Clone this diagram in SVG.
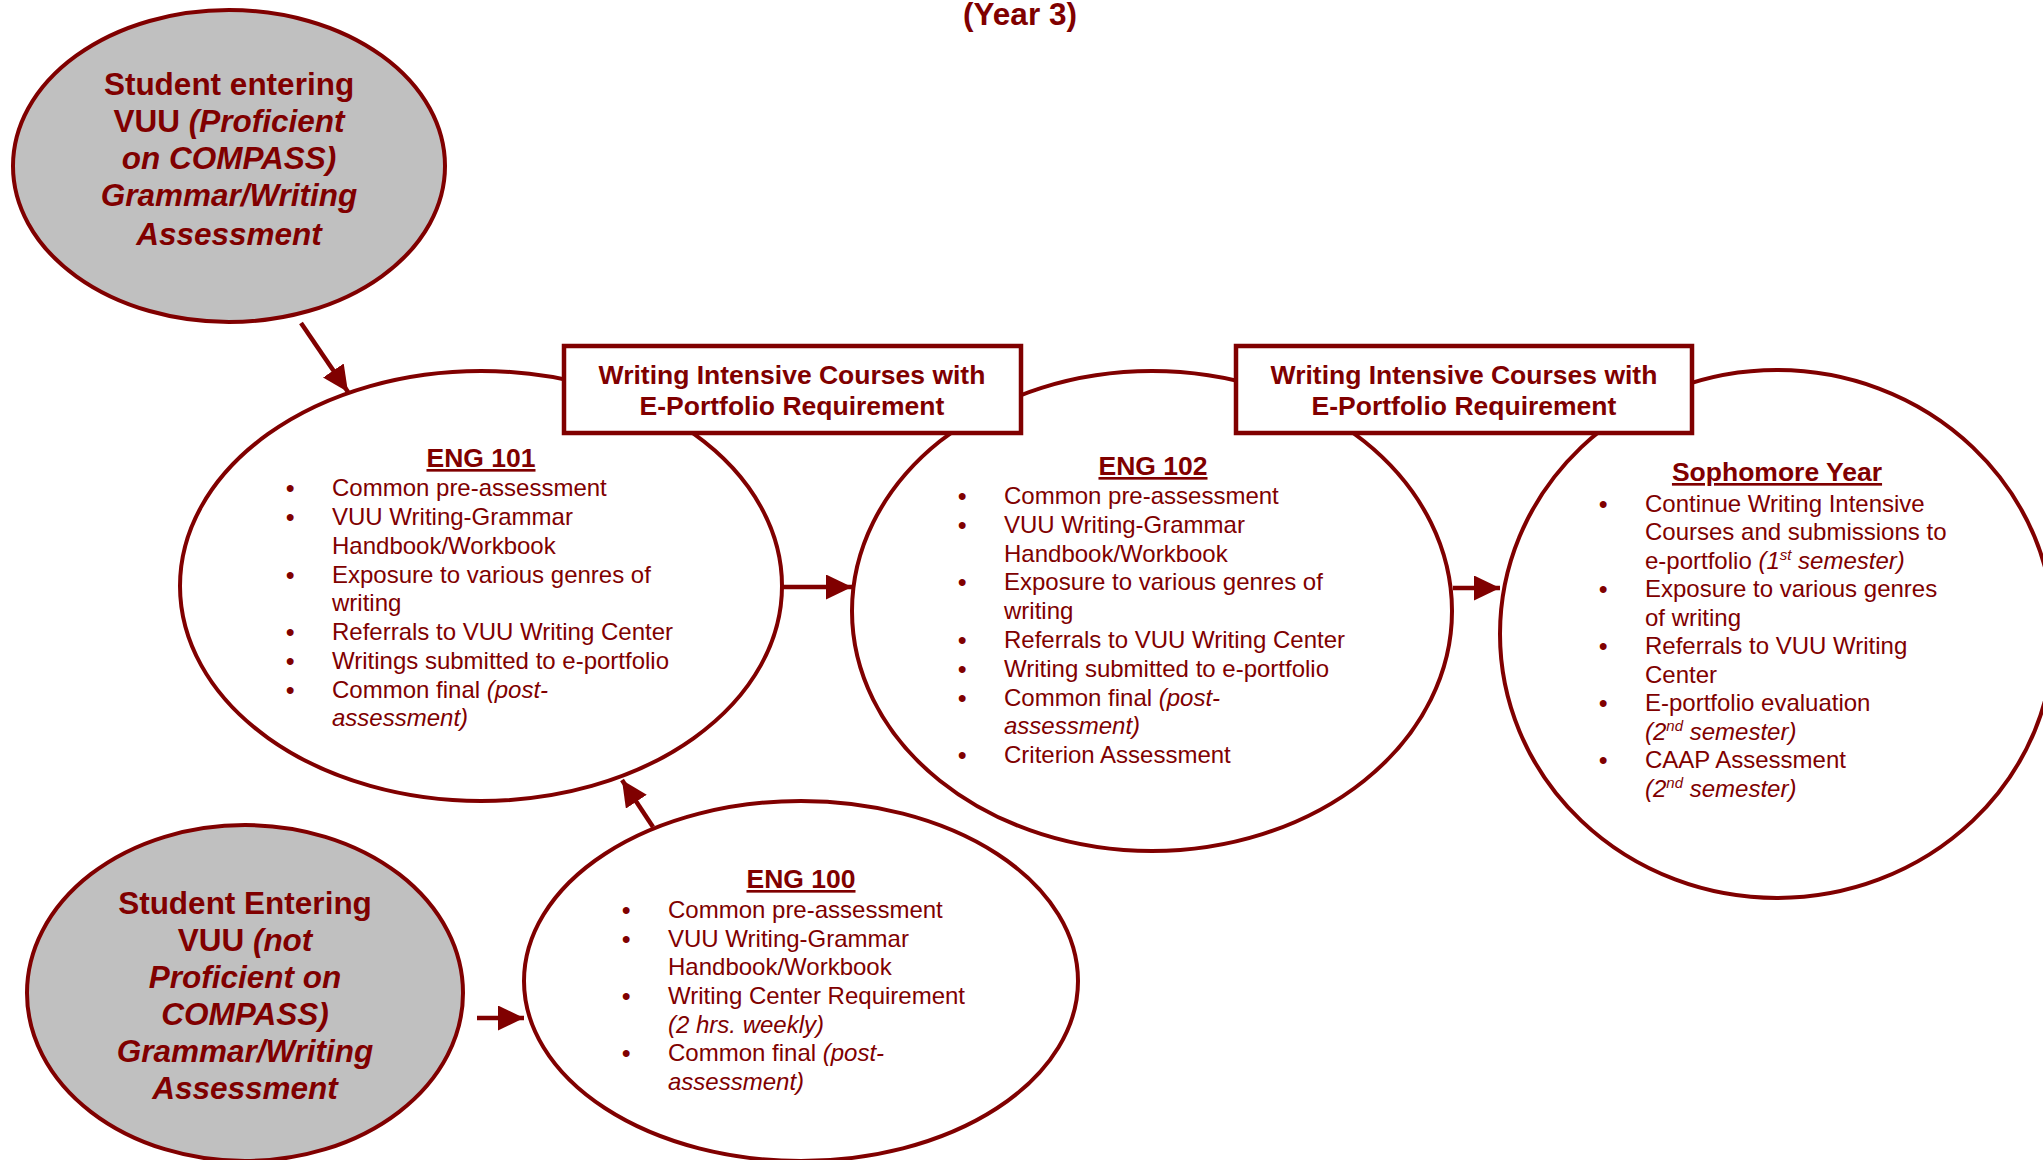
<svg xmlns="http://www.w3.org/2000/svg" width="2043" height="1160" viewBox="0 0 2043 1160">
<defs>
<style>
text{font-family:"Liberation Sans",Arial,sans-serif;fill:#800000}
.node{fill:#fff;stroke:#800000;stroke-width:4}
.gray{fill:#c0c0c0;stroke:#800000;stroke-width:4}
.box{fill:#fff;stroke:#800000;stroke-width:4.5}
.big{font-size:31.5px;font-weight:bold;text-anchor:middle}
.hdr{font-size:26.5px;font-weight:bold;text-anchor:middle}
.ul{text-decoration:underline}
.body{font-size:24px}
.b{font-weight:bold}
.i{font-style:italic}
.sup{font-size:15px}
.conn{stroke:#800000;stroke-width:4.5;fill:none;marker-end:url(#ah)}
</style>
<marker id="ah" markerUnits="userSpaceOnUse" markerWidth="27" markerHeight="26" refX="26" refY="12.5" orient="auto">
<path d="M0,0 L26,12.5 L0,25 z" fill="#800000"/>
</marker>
</defs>

<text class="big" x="1020" y="25" font-size="29">(Year 3)</text>

<g id="node-proficient">
<ellipse class="gray" cx="229" cy="166" rx="216" ry="156"/>
<text class="big" x="229" y="95">Student entering</text>
<text class="big" x="229" y="132">VUU <tspan class="i">(Proficient</tspan></text>
<text class="big i" x="229" y="169">on COMPASS)</text>
<text class="big i" x="229" y="206">Grammar/Writing</text>
<text class="big i" x="229" y="245">Assessment</text>
</g>

<g id="node-eng101">
<ellipse class="node" cx="481" cy="586" rx="301" ry="215"/>
<text class="hdr ul" x="481" y="467">ENG 101</text>
<g class="body">
<text class="b" x="286" y="496">•</text><text x="332" y="496">Common pre-assessment</text>
<text class="b" x="286" y="525">•</text><text x="332" y="525">VUU Writing-Grammar</text>
<text x="332" y="554">Handbook/Workbook</text>
<text class="b" x="286" y="583">•</text><text x="332" y="583">Exposure to various genres of</text>
<text x="332" y="611">writing</text>
<text class="b" x="286" y="640">•</text><text x="332" y="640">Referrals to VUU Writing Center</text>
<text class="b" x="286" y="669">•</text><text x="332" y="669">Writings submitted to e-portfolio</text>
<text class="b" x="286" y="698">•</text><text x="332" y="698">Common final <tspan class="i">(post-</tspan></text>
<text class="i" x="332" y="726">assessment)</text>
</g>
</g>

<g id="node-eng102">
<ellipse class="node" cx="1152" cy="611" rx="300" ry="240"/>
<text class="hdr ul" x="1153" y="475">ENG 102</text>
<g class="body">
<text class="b" x="958" y="504">•</text><text x="1004" y="504">Common pre-assessment</text>
<text class="b" x="958" y="533">•</text><text x="1004" y="533">VUU Writing-Grammar</text>
<text x="1004" y="562">Handbook/Workbook</text>
<text class="b" x="958" y="590">•</text><text x="1004" y="590">Exposure to various genres of</text>
<text x="1004" y="619">writing</text>
<text class="b" x="958" y="648">•</text><text x="1004" y="648">Referrals to VUU Writing Center</text>
<text class="b" x="958" y="677">•</text><text x="1004" y="677">Writing submitted to e-portfolio</text>
<text class="b" x="958" y="706">•</text><text x="1004" y="706">Common final <tspan class="i">(post-</tspan></text>
<text class="i" x="1004" y="734">assessment)</text>
<text class="b" x="958" y="763">•</text><text x="1004" y="763">Criterion Assessment</text>
</g>
</g>

<g id="node-sophomore">
<ellipse class="node" cx="1777" cy="634" rx="277" ry="264"/>
<text class="hdr ul" x="1777" y="481">Sophomore Year</text>
<g class="body">
<text class="b" x="1599" y="512">•</text><text x="1645" y="512">Continue Writing Intensive</text>
<text x="1645" y="540">Courses and submissions to</text>
<text x="1645" y="569">e-portfolio <tspan class="i">(1<tspan class="sup" dy="-9">st</tspan><tspan dy="9"> semester)</tspan></tspan></text>
<text class="b" x="1599" y="597">•</text><text x="1645" y="597">Exposure to various genres</text>
<text x="1645" y="626">of writing</text>
<text class="b" x="1599" y="654">•</text><text x="1645" y="654">Referrals to VUU Writing</text>
<text x="1645" y="683">Center</text>
<text class="b" x="1599" y="711">•</text><text x="1645" y="711">E-portfolio evaluation</text>
<text class="i" x="1645" y="740">(2<tspan class="sup" dy="-9">nd</tspan><tspan dy="9"> semester)</tspan></text>
<text class="b" x="1599" y="768">•</text><text x="1645" y="768">CAAP Assessment</text>
<text class="i" x="1645" y="797">(2<tspan class="sup" dy="-9">nd</tspan><tspan dy="9"> semester)</tspan></text>
</g>
</g>

<g id="node-eng100">
<ellipse class="node" cx="801" cy="981" rx="277" ry="180"/>
<text class="hdr ul" x="801" y="888">ENG 100</text>
<g class="body">
<text class="b" x="622" y="918">•</text><text x="668" y="918">Common pre-assessment</text>
<text class="b" x="622" y="947">•</text><text x="668" y="947">VUU Writing-Grammar</text>
<text x="668" y="975">Handbook/Workbook</text>
<text class="b" x="622" y="1004">•</text><text x="668" y="1004">Writing Center Requirement</text>
<text class="i" x="668" y="1033">(2 hrs. weekly)</text>
<text class="b" x="622" y="1061">•</text><text x="668" y="1061">Common final <tspan class="i">(post-</tspan></text>
<text class="i" x="668" y="1090">assessment)</text>
</g>
</g>

<g id="node-not-proficient">
<ellipse class="gray" cx="245" cy="993" rx="218" ry="168"/>
<text class="big" x="245" y="914">Student Entering</text>
<text class="big" x="245" y="951">VUU <tspan class="i">(not</tspan></text>
<text class="big i" x="245" y="988">Proficient on</text>
<text class="big i" x="245" y="1025">COMPASS)</text>
<text class="big i" x="245" y="1062">Grammar/Writing</text>
<text class="big i" x="245" y="1099">Assessment</text>
</g>

<g id="box-wi-1">
<rect class="box" x="564" y="346" width="457" height="87"/>
<text class="hdr" x="792" y="384">Writing Intensive Courses with</text>
<text class="hdr" x="792" y="415">E-Portfolio Requirement</text>
</g>

<g id="box-wi-2">
<rect class="box" x="1236" y="346" width="456" height="87"/>
<text class="hdr" x="1464" y="384">Writing Intensive Courses with</text>
<text class="hdr" x="1464" y="415">E-Portfolio Requirement</text>
</g>

<g id="connectors">
<line class="conn" x1="301" y1="323" x2="348" y2="392"/>
<line class="conn" x1="782" y1="587" x2="852" y2="587"/>
<line class="conn" x1="1453" y1="588" x2="1500" y2="588"/>
<line class="conn" x1="653" y1="827" x2="622" y2="780"/>
<line class="conn" x1="477" y1="1018" x2="524" y2="1018"/>
</g>
</svg>
